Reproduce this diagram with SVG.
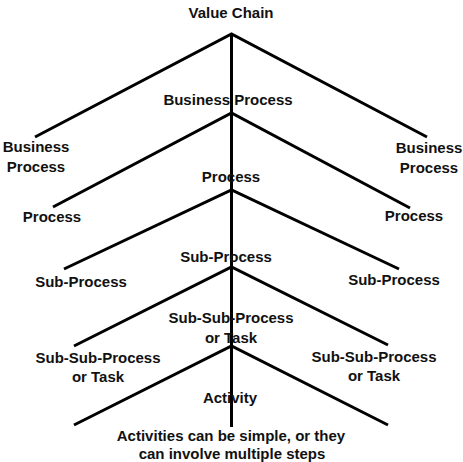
<svg xmlns="http://www.w3.org/2000/svg" width="463" height="462" viewBox="0 0 463 462">
<style>
text{font-family:"Liberation Sans",Arial,sans-serif;font-weight:bold;font-size:15px;fill:#111;text-anchor:middle}
.c line,.c polyline{stroke:#000;stroke-width:3;fill:none;stroke-linejoin:miter;stroke-linecap:butt}
</style>
<rect width="463" height="462" fill="#fff"/>
<g class="c" id="connectors">
<line x1="231.5" y1="33" x2="231.5" y2="427"/>
<polyline points="35,137 231.5,34 427,137"/>
<polyline points="53,207 231.5,113 410,208"/>
<polyline points="64,269 231.5,190 399,269"/>
<polyline points="74,346 231.5,267 388,345"/>
<polyline points="74,425 231.5,346 388,425"/>
</g>
<g id="value-chain"><text x="231" y="18">Value Chain</text></g>
<g id="business-process-center"><text x="228" y="105">Business Process</text></g>
<g id="business-process-left"><text x="36" y="152">Business</text><text x="36" y="172">Process</text></g>
<g id="business-process-right"><text x="429" y="153">Business</text><text x="429" y="173">Process</text></g>
<g id="process-center"><text x="231" y="182">Process</text></g>
<g id="process-left"><text x="52" y="222">Process</text></g>
<g id="process-right"><text x="414" y="221">Process</text></g>
<g id="sub-process-center"><text x="226" y="262">Sub-Process</text></g>
<g id="sub-process-left"><text x="81" y="287">Sub-Process</text></g>
<g id="sub-process-right"><text x="394" y="285">Sub-Process</text></g>
<g id="subsub-center"><text x="231" y="323">Sub-Sub-Process</text><text x="231" y="343">or Task</text></g>
<g id="subsub-left"><text x="98" y="363">Sub-Sub-Process</text><text x="98" y="382">or Task</text></g>
<g id="subsub-right"><text x="374" y="362">Sub-Sub-Process</text><text x="374" y="381">or Task</text></g>
<g id="activity"><text x="230" y="403">Activity</text></g>
<g id="note"><text x="231" y="441">Activities can be simple, or they</text><text x="232" y="459">can involve multiple steps</text></g>
</svg>
